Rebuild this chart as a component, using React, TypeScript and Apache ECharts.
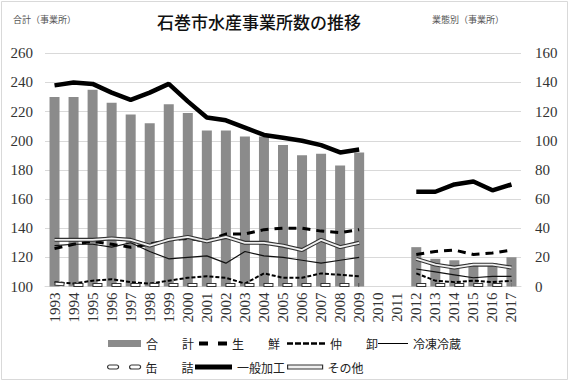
import React, { useEffect, useRef } from "react";
import * as echarts from "echarts";

// 年次（2010・2011年はデータなし）
const years = [
  "1993", "1994", "1995", "1996", "1997", "1998", "1999", "2000", "2001",
  "2002", "2003", "2004", "2005", "2006", "2007", "2008", "2009", "2010",
  "2011", "2012", "2013", "2014", "2015", "2016", "2017",
];

// 合計（左軸）
const totalCount = [
  230, 230, 235, 226, 218, 212, 225, 219, 207, 207, 203, 203, 197, 190, 191,
  183, 192, null, null, 127, 119, 118, 116, 116, 120,
];

// 業態別（右軸）
const fresh = [
  26, 29, 31, 29, 27, 29, 32, 33, 31, 36, 36, 39, 40, 40, 38, 37, 39, null,
  null, 22, 24, 25, 22, 23, 25,
];
const wholesale = [
  3, 2, 4, 5, 3, 2, 4, 6, 7, 6, 2, 9, 6, 6, 9, 8, 7, null, null, 9, 4, 3, 4,
  3, 4,
];
const frozen = [
  28, 29, 29, 27, 30, 24, 19, 20, 21, 16, 24, 21, 20, 18, 16, 18, 20, null,
  null, 12, 10, 8, 6, 7, 7,
];
const canned = [
  2, 1, 1, 1, 1, 1, 1, 1, 1, 1, 1, 1, 1, 1, 1, 1, 1, null, null, 1, 1, 1, 1,
  1, 1,
];
const processing = [
  138, 140, 139, 133, 128, 133, 139, 127, 116, 114, 109, 104, 102, 100, 97,
  92, 94, null, null, 65, 65, 70, 72, 66, 70,
];
const others = [
  32, 32, 32, 33, 32, 28, 32, 34, 31, 34, 30, 30, 28, 25, 32, 27, 30, null,
  null, 19, 15, 13, 15, 15, 13,
];

// 軸目盛
const leftAxis = { min: 100, max: 260, interval: 20 };
const rightAxis = { min: 0, max: 160, interval: 20 };

const NUM_FONT = "'Liberation Serif', serif";
const CJK_FONT = "'Noto Sans CJK JP', 'Noto Sans', sans-serif";

type LegendSpec = {
  name: string;
  label: string;
  left: number;
  top: number;
  itemWidth: number;
  itemHeight: number;
  icon: string;
  itemStyle: Record<string, unknown>;
};

const ROW1 = 335.5;
const ROW2 = 359;

const legendSpecs: LegendSpec[] = [
  {
    name: "合計",
    label: "合　　計",
    left: 108,
    top: ROW1,
    itemWidth: 33,
    itemHeight: 7,
    icon: "rect",
    itemStyle: { color: "#8b8b8b" },
  },
  {
    name: "生鮮",
    label: "生　　鮮",
    left: 199,
    top: ROW1,
    itemWidth: 28,
    itemHeight: 4,
    icon: "path://M0,0h9v4h-9zM19,0h9v4h-9z",
    itemStyle: { color: "#000" },
  },
  {
    name: "仲卸",
    label: "仲　　卸",
    left: 287,
    top: ROW1,
    itemWidth: 38,
    itemHeight: 2.5,
    icon:
      "path://M0,0h6v2.5h-6zM8,0h6v2.5h-6zM16,0h6v2.5h-6zM24,0h6v2.5h-6zM32,0h6v2.5h-6z",
    itemStyle: { color: "#000" },
  },
  {
    name: "冷凍冷蔵",
    label: "冷凍冷蔵",
    left: 378,
    top: ROW1,
    itemWidth: 30,
    itemHeight: 1,
    icon: "rect",
    itemStyle: { color: "#000" },
  },
  {
    name: "缶詰",
    label: "缶　　詰",
    left: 107,
    top: ROW2,
    itemWidth: 33,
    itemHeight: 4,
    icon:
      "path://M2,0h7a2,2 0 0 1 0,4h-7a2,2 0 0 1 0,-4zM24,0h7a2,2 0 0 1 0,4h-7a2,2 0 0 1 0,-4z",
    itemStyle: { color: "#fff", borderColor: "#333", borderWidth: 1.2 },
  },
  {
    name: "一般加工",
    label: "一般加工",
    left: 195,
    top: ROW2,
    itemWidth: 37,
    itemHeight: 5,
    icon: "rect",
    itemStyle: { color: "#000" },
  },
  {
    name: "その他",
    label: "その他",
    left: 287,
    top: ROW2,
    itemWidth: 35,
    itemHeight: 4,
    icon: "rect",
    itemStyle: { color: "#f0f0f0", borderColor: "#333", borderWidth: 1.2 },
  },
];

export default function App() {
  const ref = useRef<HTMLDivElement>(null);

  useEffect(() => {
    if (!ref.current) return;
    const chart = echarts.init(ref.current, undefined, { renderer: "svg" });

    const lineBase = {
      type: "line" as const,
      yAxisIndex: 1,
      symbol: "none",
      silent: true,
      connectNulls: false,
    };

    chart.setOption({
      animation: false,
      backgroundColor: "#fff",
      title: [
        {
          text: "石巻市水産事業所数の推移",
          left: 157,
          top: 13,
          padding: 0,
          textStyle: {
            fontFamily: CJK_FONT,
            fontSize: 17,
            fontWeight: 500,
            color: "#111",
          },
        },
        {
          text: "合計（事業所）",
          left: 13,
          top: 15,
          padding: 0,
          textStyle: {
            fontFamily: CJK_FONT,
            fontSize: 9,
            fontWeight: "normal",
            color: "#555",
          },
        },
        {
          text: "業態別（事業所）",
          left: 432,
          top: 15,
          padding: 0,
          textStyle: {
            fontFamily: CJK_FONT,
            fontSize: 9,
            fontWeight: "normal",
            color: "#555",
          },
        },
      ],
      legend: legendSpecs.map((s) => ({
        left: s.left,
        top: s.top,
        padding: 0,
        orient: "horizontal",
        selectedMode: false,
        itemWidth: s.itemWidth,
        itemHeight: s.itemHeight,
        formatter: () => s.label,
        textStyle: {
          fontFamily: CJK_FONT,
          fontSize: 12,
          lineHeight: 16,
          color: "#222",
        },
        data: [{ name: s.name, icon: s.icon, itemStyle: s.itemStyle }],
      })),
      grid: { left: 45, right: 49, top: 53.3, bottom: 95.5 },
      xAxis: {
        type: "category",
        data: years,
        axisLine: { lineStyle: { color: "#d9d9d9" } },
        axisTick: { show: false },
        axisLabel: {
          interval: 0,
          rotate: 90,
          margin: 6,
          fontFamily: NUM_FONT,
          fontSize: 15,
          color: "#333",
        },
      },
      yAxis: [
        {
          type: "value",
          min: leftAxis.min,
          max: leftAxis.max,
          interval: leftAxis.interval,
          axisLine: { show: false },
          axisTick: { show: false },
          splitLine: { lineStyle: { color: "#d9d9d9", width: 1 } },
          axisLabel: {
            margin: 12,
            fontFamily: NUM_FONT,
            fontSize: 15,
            color: "#333",
          },
        },
        {
          type: "value",
          min: rightAxis.min,
          max: rightAxis.max,
          interval: rightAxis.interval,
          position: "right",
          axisLine: { show: false },
          axisTick: { show: false },
          splitLine: { show: false },
          axisLabel: {
            margin: 14,
            fontFamily: NUM_FONT,
            fontSize: 15,
            color: "#333",
          },
        },
      ],
      series: [
        {
          name: "合計",
          type: "bar",
          yAxisIndex: 0,
          data: totalCount,
          barWidth: 10,
          silent: true,
          itemStyle: { color: "#8b8b8b" },
        },
        {
          ...lineBase,
          name: "生鮮",
          data: fresh,
          itemStyle: { color: "#000" },
          lineStyle: { color: "#000", width: 3, type: [8, 6] },
        },
        {
          ...lineBase,
          name: "仲卸",
          data: wholesale,
          itemStyle: { color: "#000" },
          lineStyle: { color: "#000", width: 2, type: [4, 2] },
        },
        {
          ...lineBase,
          name: "冷凍冷蔵",
          data: frozen,
          itemStyle: { color: "#000" },
          lineStyle: { color: "#111", width: 1.2 },
        },
        {
          ...lineBase,
          name: "缶詰",
          data: canned,
          itemStyle: { color: "#333" },
          lineStyle: { color: "#333", width: 4, type: [10, 9] },
        },
        {
          ...lineBase,
          name: "缶詰_inner",
          data: canned,
          itemStyle: { color: "#fff" },
          lineStyle: { color: "#fff", width: 2, type: [8, 11], dashOffset: -1 },
        },
        {
          ...lineBase,
          name: "一般加工",
          data: processing,
          itemStyle: { color: "#000" },
          lineStyle: { color: "#000", width: 4.5 },
        },
        {
          ...lineBase,
          name: "その他",
          data: others,
          itemStyle: { color: "#333" },
          lineStyle: { color: "#333", width: 4 },
        },
        {
          ...lineBase,
          name: "その他_inner",
          data: others,
          itemStyle: { color: "#f0f0f0" },
          lineStyle: { color: "#f0f0f0", width: 1.8 },
        },
      ],
      graphic: [
        {
          type: "rect",
          silent: true,
          z: 100,
          shape: { x: 1.5, y: 1.5, width: 566, height: 378 },
          style: { fill: "none", stroke: "#d9d9d9", lineWidth: 1 },
        },
      ],
    });

    return () => chart.dispose();
  }, []);

  return (
    <div
      ref={ref}
      style={{
        position: "absolute",
        left: 0,
        top: 0,
        width: 570,
        height: 382,
        background: "#fff",
      }}
    />
  );
}
